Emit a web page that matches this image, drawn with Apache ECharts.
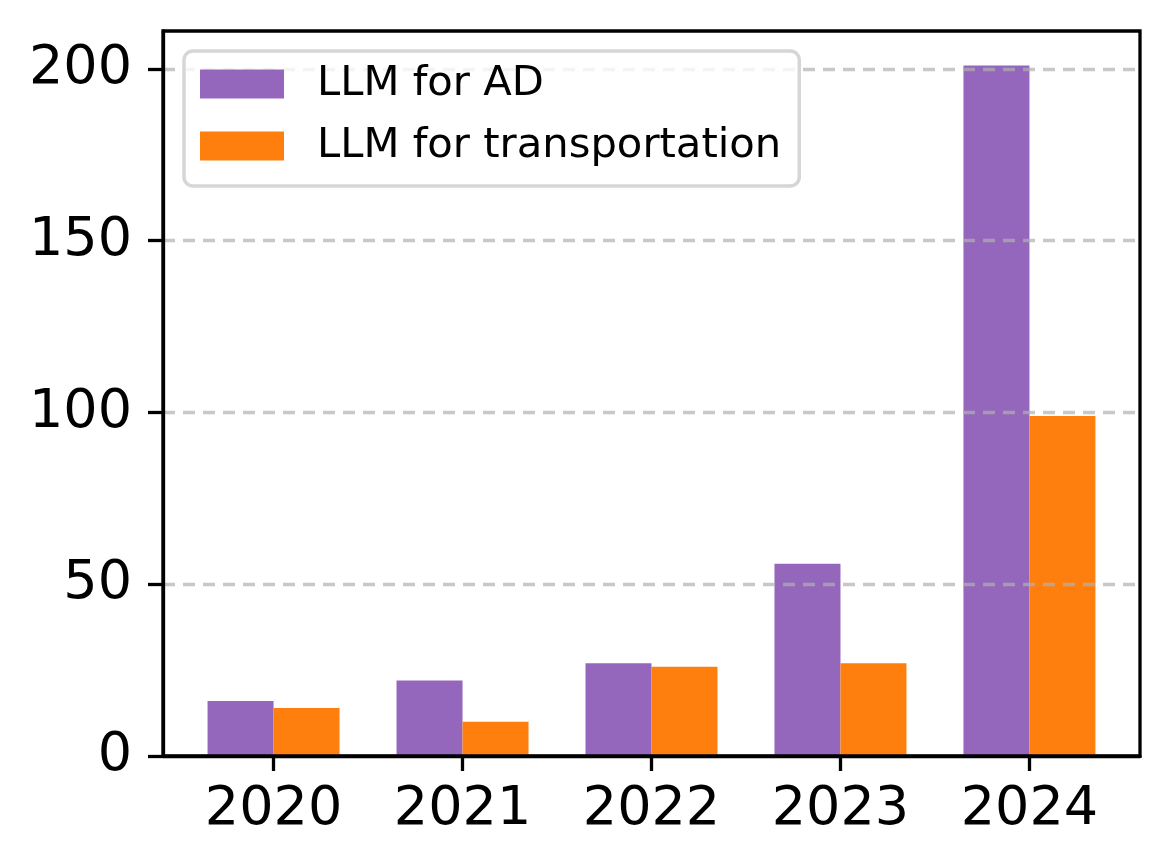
<!DOCTYPE html>
<html>
<head>
<meta charset="utf-8">
<script src="https://cdn.jsdelivr.net/npm/echarts@6/dist/echarts.min.js"></script>
<style>
html,body{margin:0;padding:0;background:#fff;}
#c{width:1170px;height:868px;}
</style>
</head>
<body>
<div id="c"></div>
<script>
const years = ['2020', '2021', '2022', '2023', '2024'];
const llmForAD = [16, 22, 27, 56, 201];
const llmForTransportation = [14, 10, 26, 27, 99];
const yTicks = [0, 50, 100, 150, 200];

const idx = years.map((_, i) => i);
const chart = echarts.init(document.getElementById('c'), null, {renderer: 'canvas'});
const font = 'DejaVu Sans';
chart.setOption({
  animation: false,
  backgroundColor: '#fff',
  grid: {
    left: 163, right: 30, top: 31, bottom: 112,
    show: true, borderColor: '#000', borderWidth: 3.3, z: 4,
    backgroundColor: 'transparent'
  },
  legend: {
    left: 184, top: 51, orient: 'vertical',
    itemWidth: 84, itemHeight: 29, itemGap: 20,
    padding: [12, 18, 19, 16],
    backgroundColor: 'rgba(255,255,255,0.8)',
    borderColor: '#d6d6d6', borderWidth: 3.5, borderRadius: 9,
    icon: 'rect',
    textStyle: {fontFamily: font, fontSize: 41.7, color: '#000', lineHeight: 41, padding: [0, 0, 0, 28]},
    data: ['LLM for AD', 'LLM for transportation']
  },
  xAxis: {
    type: 'value', min: -0.585, max: 4.585,
    axisLine: {show: true, onZero: false, lineStyle: {color: '#000', width: 3.3}},
    axisTick: {show: true, customValues: idx, length: 15, lineStyle: {color: '#000', width: 3.3}},
    axisLabel: {
      customValues: idx, margin: 27,
      fontFamily: font, fontSize: 54, color: '#000',
      formatter: v => years[Math.round(v)]
    },
    splitLine: {show: false}
  },
  yAxis: {
    type: 'value', min: 0, max: 211.05, interval: 50, z: 3,
    axisLine: {show: true, onZero: false, lineStyle: {color: '#000', width: 3.3}},
    axisTick: {show: true, customValues: yTicks, length: 15, lineStyle: {color: '#000', width: 3.3}},
    axisLabel: {customValues: yTicks, margin: 31, fontFamily: font, fontSize: 54, color: '#000'},
    splitLine: {
      show: true, showMinLine: false, showMaxLine: true,
      lineStyle: {color: 'rgba(176,176,176,0.7)', width: 3.3, type: [12, 8]}
    }
  },
  series: [
    {
      name: 'LLM for AD', type: 'bar', barWidth: 66, barGap: '0%',
      itemStyle: {color: '#9467bd'},
      data: idx.map(i => [i, llmForAD[i]])
    },
    {
      name: 'LLM for transportation', type: 'bar', barWidth: 66, barGap: '0%',
      itemStyle: {color: '#ff7f0e'},
      data: idx.map(i => [i, llmForTransportation[i]])
    }
  ]
});
</script>
</body>
</html>
